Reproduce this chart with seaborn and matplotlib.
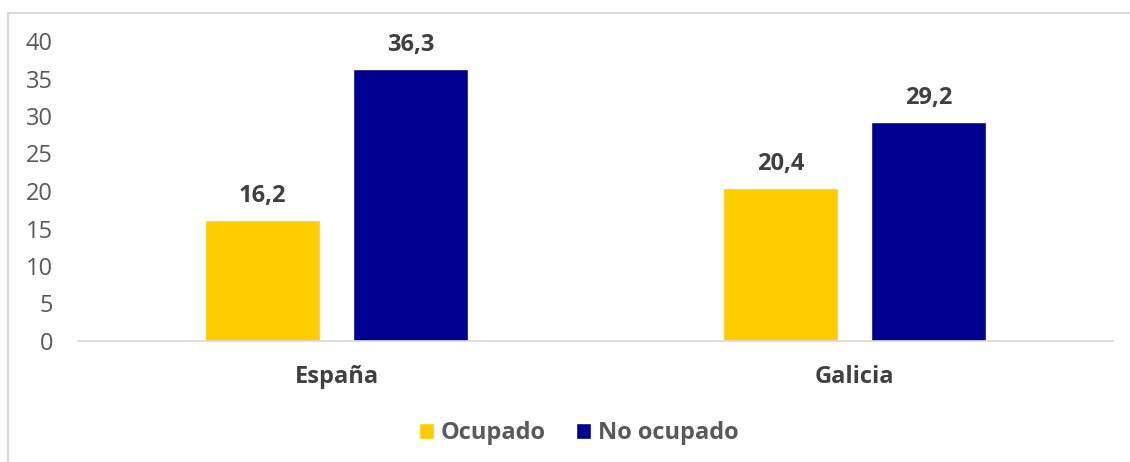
import matplotlib
matplotlib.use("Agg")
import matplotlib.pyplot as plt
from matplotlib.patches import Rectangle
import seaborn as sns
import pandas as pd

categories = ["España", "Galicia"]
series_names = ["Ocupado", "No ocupado"]
ocupado = [16.2, 20.4]
no_ocupado = [36.3, 29.2]
y_ticks = [0, 5, 10, 15, 20, 25, 30, 35, 40]

df = pd.DataFrame({
    "region": categories * 2,
    "serie": [series_names[0]] * 2 + [series_names[1]] * 2,
    "valor": ocupado + no_ocupado,
})

sns.set_theme(style="white")
plt.rcParams["font.family"] = ["Open Sans", "DejaVu Sans"]

FS = 17

fig = plt.figure(figsize=(11.3, 4.62), dpi=100)
ax = fig.add_axes([78 / 1130, 1 - 341 / 462, (1113 - 78) / 1130, 300 / 462])

palette = {"Ocupado": "#FFCC00", "No ocupado": "#000090"}
sns.barplot(data=df, x="region", y="valor", hue="serie", palette=palette,
            width=0.572, gap=0.224, saturation=1, ax=ax, legend=True)

for cont in ax.containers:
    ax.bar_label(cont, labels=[f"{v:.1f}".replace(".", ",") for v in cont.datavalues],
                 padding=8.5, fontsize=FS, fontweight="bold", color="#404040")

ax.set_ylim(0, 40)
ax.set_xlim(-0.5, 1.5)
ax.set_yticks(y_ticks)
ax.set_yticklabels([str(t) for t in y_ticks])
ax.tick_params(axis="y", length=0, pad=18, labelsize=FS, labelcolor="#595959")
ax.tick_params(axis="x", length=0, pad=17, labelsize=FS, labelcolor="#404040")
for lbl in ax.get_xticklabels():
    lbl.set_fontweight("bold")
ax.set_xlabel("")
ax.set_ylabel("")
for s in ["top", "right", "left"]:
    ax.spines[s].set_visible(False)
ax.spines["bottom"].set_color("#d9d9d9")
ax.spines["bottom"].set_linewidth(1.2)
ax.grid(False)

handles, labels = ax.get_legend_handles_labels()
ax.legend(handles, labels, loc="center", bbox_to_anchor=(0.512, 0.062),
          bbox_transform=fig.transFigure, ncol=2, frameon=False,
          prop={"size": FS, "weight": "bold"}, labelcolor="#595959",
          handlelength=0.64, handleheight=0.64, handletextpad=0.3,
          columnspacing=1.27, borderpad=0, borderaxespad=0)

fig.patches.append(Rectangle((8 / 1130, -0.2), 1.2, 1 - 13 / 462 + 0.2,
                             transform=fig.transFigure, fill=False,
                             edgecolor="#d9d9d9", linewidth=1.5, zorder=-1))

fig.savefig("out.png", dpi=100)
